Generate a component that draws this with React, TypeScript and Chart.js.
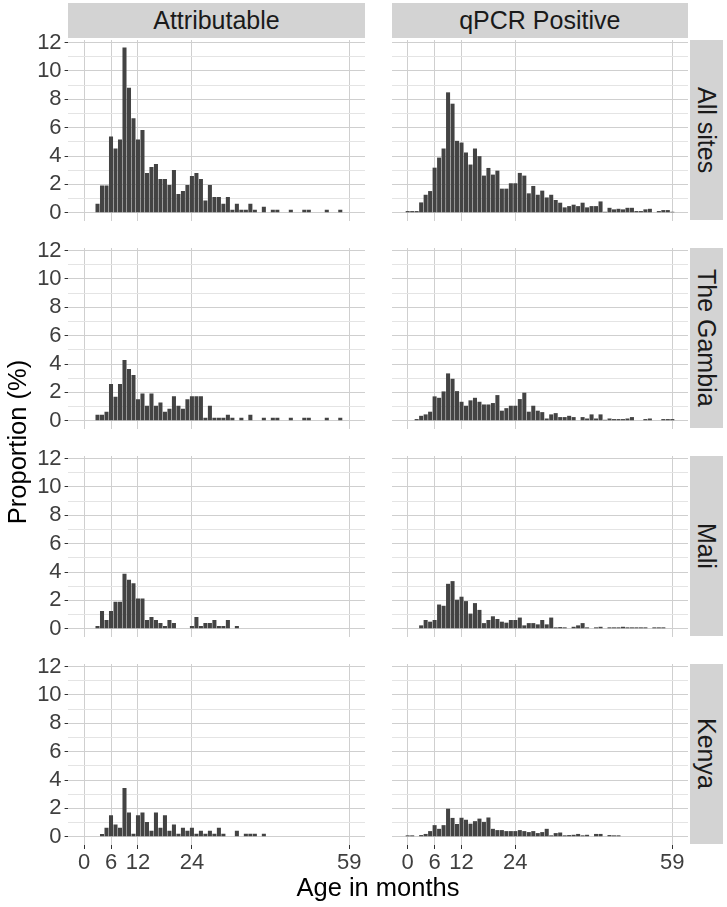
import React, { useEffect, useRef } from "react";
import { Chart, registerables } from "chart.js";

Chart.register(...registerables);

// ---------- data ----------
const months = Array.from({ length: 60 }, (_, i) => i); // 0..59 age in months
const xTickLabels = [0, 6, 12, 24, 59];
const yGridValues = [0, 1, 2, 3, 4, 5, 6, 7, 8, 9, 10, 11, 12];
const yTickLabels = [0, 2, 4, 6, 8, 10, 12];
const columnLabels = ["Attributable", "qPCR Positive"];
const rowLabels = ["All sites", "The Gambia", "Mali", "Kenya"];

// proportion (%) per month of age, months 0..59
const attributableAll = [
  0, 0, 0, 0.64, 1.93, 1.93, 5.38, 4.53, 5.17, 11.65,
  8.82, 6.67, 5.17, 5.83, 2.81, 3.23, 3.44, 2.38, 2.38, 1.96,
  3.02, 1.32, 1.53, 1.96, 2.59, 2.81, 2.38, 0.87, 1.96, 1.11,
  1.11, 0.64, 1.11, 0.21, 0.64, 0.21, 0.21, 0.64, 0.21, 0,
  0.43, 0, 0.21, 0.21, 0, 0, 0.21, 0, 0, 0.21,
  0.21, 0, 0, 0, 0.21, 0, 0, 0.21, 0, 0,
];
const qpcrAll = [
  0.12, 0.12, 0.12, 0.73, 1.27, 1.53, 3.18, 3.89, 4.53, 8.49,
  7.69, 5.07, 4.95, 4.25, 3.4, 4.53, 3.99, 2.62, 3.16, 2.69,
  2.97, 1.7, 1.7, 2.08, 2.08, 2.81, 2.62, 1.37, 1.89, 1.27,
  1.56, 1.08, 1.27, 0.9, 0.71, 0.38, 0.47, 0.57, 0.47, 0.71,
  0.38, 0.47, 0.47, 0.8, 0.07, 0.35, 0.24, 0.28, 0.24, 0.35,
  0.35, 0.12, 0.12, 0.24, 0.28, 0, 0.12, 0.19, 0.19, 0.07,
];
const attributableGambia = [
  0, 0, 0, 0.42, 0.42, 0.64, 2.59, 1.69, 2.59, 4.28,
  3.65, 3.22, 1.51, 1.93, 1.06, 1.93, 1.06, 1.29, 0.64, 0.85,
  1.72, 1.06, 0.85, 1.51, 1.72, 1.72, 1.72, 0.21, 1.06, 0.21,
  0.21, 0.21, 0.42, 0.21, 0, 0.21, 0, 0.42, 0, 0,
  0.21, 0, 0.21, 0.21, 0, 0, 0.21, 0, 0, 0.21,
  0.21, 0, 0, 0, 0.21, 0, 0, 0.21, 0, 0,
];
const qpcrGambia = [
  0, 0, 0.12, 0.35, 0.45, 0.64, 1.72, 1.62, 2.07, 3.34,
  2.96, 2.09, 1.34, 1.06, 1.44, 1.62, 1.34, 1.15, 1.15, 1.25,
  1.81, 0.71, 0.89, 1.06, 1.06, 1.53, 1.98, 0.64, 1.06, 0.71,
  0.61, 0.16, 0.45, 0.54, 0.26, 0.26, 0.35, 0.26, 0, 0.26,
  0.16, 0.45, 0.16, 0.45, 0.07, 0.16, 0.12, 0.12, 0.12, 0.16,
  0.26, 0, 0, 0.12, 0.16, 0, 0, 0.12, 0.12, 0.12,
];
const attributableMali = [
  0, 0, 0, 0.19, 1.26, 0.62, 1.26, 1.9, 1.9, 3.88,
  3.45, 3.21, 2.14, 2.14, 0.62, 0.83, 0.62, 0.4, 0.19, 0.62,
  0.4, 0, 0, 0, 0.19, 0.83, 0.19, 0.4, 0.4, 0.62,
  0.19, 0.19, 0.62, 0, 0.19, 0, 0, 0, 0, 0,
  0, 0, 0, 0, 0, 0, 0, 0, 0, 0,
  0, 0, 0, 0, 0, 0, 0, 0, 0, 0,
];
const qpcrMali = [
  0, 0, 0, 0.24, 0.62, 0.5, 0.62, 1.71, 1.62, 3.17,
  3.36, 2.05, 2.26, 1.95, 1.07, 1.81, 1.33, 0.4, 0.62, 0.88,
  0.69, 0.5, 0.43, 0.62, 0.62, 0.79, 0.24, 0.4, 0.4, 0.31,
  0.62, 0.31, 0.79, 0.1, 0.12, 0.1, 0, 0.14, 0.24, 0.4,
  0.1, 0, 0.1, 0.14, 0, 0.1, 0.1, 0.1, 0.14, 0.1,
  0.1, 0.1, 0.1, 0.1, 0, 0.1, 0.1, 0.1, 0, 0,
];
const attributableKenya = [
  0, 0, 0, 0, 0.19, 0.63, 1.52, 0.87, 0.63, 3.44,
  1.71, 0.21, 1.52, 1.71, 1.05, 0.42, 1.71, 0.63, 1.52, 0.42,
  0.87, 0.21, 0.63, 0.42, 0.63, 0.21, 0.42, 0.21, 0.42, 0.21,
  0.63, 0.21, 0, 0, 0.42, 0, 0.21, 0.21, 0.21, 0,
  0.21, 0, 0, 0, 0, 0, 0, 0, 0, 0,
  0, 0, 0, 0, 0, 0, 0, 0, 0, 0,
];
const qpcrKenya = [
  0.1, 0.1, 0, 0.12, 0.2, 0.4, 0.82, 0.56, 0.82, 1.98,
  1.33, 0.9, 1.34, 1.2, 0.92, 1.1, 1.28, 1.05, 1.36, 0.56,
  0.47, 0.47, 0.4, 0.4, 0.4, 0.47, 0.4, 0.33, 0.4, 0.26,
  0.33, 0.56, 0.1, 0.26, 0.3, 0.1, 0.12, 0.14, 0.2, 0.1,
  0.14, 0, 0.2, 0.2, 0, 0.12, 0.1, 0.1, 0, 0,
  0, 0, 0, 0, 0, 0, 0, 0, 0, 0,
];

const panelSeries = [
  [attributableAll, qpcrAll],
  [attributableGambia, qpcrGambia],
  [attributableMali, qpcrMali],
  [attributableKenya, qpcrKenya],
];

// ---------- layout ----------
const FONT = "'Liberation Sans', Arial, Helvetica, sans-serif";
const PANEL_L = [68.3, 391.6];
const PANEL_W = 296.4;
const PANEL_T0 = 39.7;
const ROW_STEP = 207.95;
const PANEL_H = 180.5;
const PAD = 18;
const XAXIS_H = 40;
const BAR_COLOR = "#434343";
const GRID_MAJOR = "#CFCFCF";
const GRID_MINOR = "#E4E4E4";
const TICK_COLOR = "#3F3F3F";
const STRIP_FILL = "#D3D3D3";
const TICK_SIZE = 22;

function Panel({ values, row, col }: { values: number[]; row: number; col: number }) {
  const ref = useRef<HTMLCanvasElement | null>(null);
  const isBottom = row === rowLabels.length - 1;
  const isLeft = col === 0;
  const top = PANEL_T0 + row * ROW_STEP - PAD;
  const left = isLeft ? 0 : PANEL_L[1] - PAD;
  const width = isLeft ? PANEL_L[0] + PANEL_W + PAD : PANEL_W + 2 * PAD;
  const height = PAD + PANEL_H + (isBottom ? XAXIS_H : PAD);

  useEffect(() => {
    if (!ref.current) return;
    const chart = new Chart(ref.current, {
      type: "bar",
      data: {
        datasets: [
          {
            data: months.map((m, i) => ({ x: m, y: values[i] > 0 ? values[i] : null })) as any,
            backgroundColor: BAR_COLOR,
            borderWidth: 0,
            barPercentage: 0.9,
            categoryPercentage: 1,
          },
        ],
      },
      options: {
        animation: false,
        responsive: false,
        devicePixelRatio: 1,
        layout: {
          padding: { left: isLeft ? 0 : PAD, right: PAD, top: PAD, bottom: isBottom ? 0 : PAD },
        },
        plugins: { legend: { display: false }, tooltip: { enabled: false } },
        scales: {
          x: {
            type: "linear",
            min: -3.5,
            max: 62.5,
            offset: false,
            afterBuildTicks: (s: any) => {
              s.ticks = xTickLabels.map((v) => ({ value: v }));
            },
            afterFit: (s: any) => {
              s.height = isBottom ? XAXIS_H : 0;
            },
            border: { display: false },
            grid: {
              offset: false,
              color: GRID_MAJOR,
              lineWidth: 1,
              drawTicks: isBottom,
              tickLength: 4,
              tickColor: "#333333",
            },
            ticks: {
              display: isBottom,
              autoSkip: false,
              maxRotation: 0,
              padding: 1,
              color: TICK_COLOR,
              font: { family: FONT, size: TICK_SIZE },
              callback: (v: any) => String(v),
            },
          },
          y: {
            type: "linear",
            min: -0.58,
            max: 12.18,
            afterBuildTicks: (s: any) => {
              s.ticks = yGridValues.map((v) => ({ value: v }));
            },
            afterFit: (s: any) => {
              s.width = isLeft ? PANEL_L[0] : 0;
            },
            border: { display: false },
            grid: {
              color: (ctx: any) => (ctx.tick && ctx.tick.value % 2 === 0 ? GRID_MAJOR : GRID_MINOR),
              lineWidth: 1,
              drawTicks: isLeft,
              tickLength: 3.7,
              tickColor: (ctx: any) =>
                ctx.tick && ctx.tick.value % 2 === 0 ? "#333333" : "rgba(0,0,0,0)",
            },
            ticks: {
              display: isLeft,
              autoSkip: false,
              padding: 3,
              color: TICK_COLOR,
              font: { family: FONT, size: TICK_SIZE },
              callback: (v: any) => (yTickLabels.includes(Number(v)) ? String(v) : ""),
            },
          },
        },
      },
    });
    return () => chart.destroy();
  }, [values, row, col]);

  return (
    <canvas
      ref={ref}
      width={Math.round(width)}
      height={Math.round(height)}
      style={{
        position: "absolute",
        left: left,
        top: top,
        width: Math.round(width),
        height: Math.round(height),
      }}
    />
  );
}

export default function App() {
  useEffect(() => {
    document.body.style.margin = "0";
  }, []);
  return (
    <div
      style={{
        position: "absolute",
        left: 0,
        top: 0,
        width: 727,
        height: 907,
        background: "#ffffff",
        fontFamily: FONT,
        overflow: "hidden",
      }}
    >
      {columnLabels.map((lab, c) => (
        <div
          key={lab}
          style={{
            position: "absolute",
            left: PANEL_L[c],
            top: 2.5,
            width: PANEL_W,
            height: 35.3,
            background: STRIP_FILL,
            color: "#1A1A1A",
            fontSize: 25,
            display: "flex",
            alignItems: "center",
            justifyContent: "center",
            lineHeight: 1,
          }}
        >
          {lab}
        </div>
      ))}
      {rowLabels.map((lab, r) => (
        <div
          key={lab}
          style={{
            position: "absolute",
            left: 690,
            top: PANEL_T0 + r * ROW_STEP,
            width: 33,
            height: PANEL_H,
            background: STRIP_FILL,
            color: "#1A1A1A",
            fontSize: 25,
            display: "flex",
            alignItems: "center",
            justifyContent: "center",
            writingMode: "vertical-rl",
            lineHeight: 1,
            whiteSpace: "nowrap",
          }}
        >
          {lab}
        </div>
      ))}
      {panelSeries.map((pair, r) =>
        pair.map((vals, c) => <Panel key={`${r}-${c}`} values={vals} row={r} col={c} />)
      )}
      <div
        style={{
          position: "absolute",
          left: 17 - 150,
          top: 442 - 15,
          width: 300,
          height: 30,
          transform: "rotate(-90deg)",
          textAlign: "center",
          fontSize: 25.5,
          lineHeight: "30px",
          color: "#000",
          whiteSpace: "nowrap",
        }}
      >
        Proportion (%)
      </div>
      <div
        style={{
          position: "absolute",
          left: 378 - 150,
          top: 887 - 15,
          width: 300,
          height: 30,
          textAlign: "center",
          fontSize: 25.5,
          lineHeight: "30px",
          color: "#000",
          whiteSpace: "nowrap",
        }}
      >
        Age in months
      </div>
    </div>
  );
}
